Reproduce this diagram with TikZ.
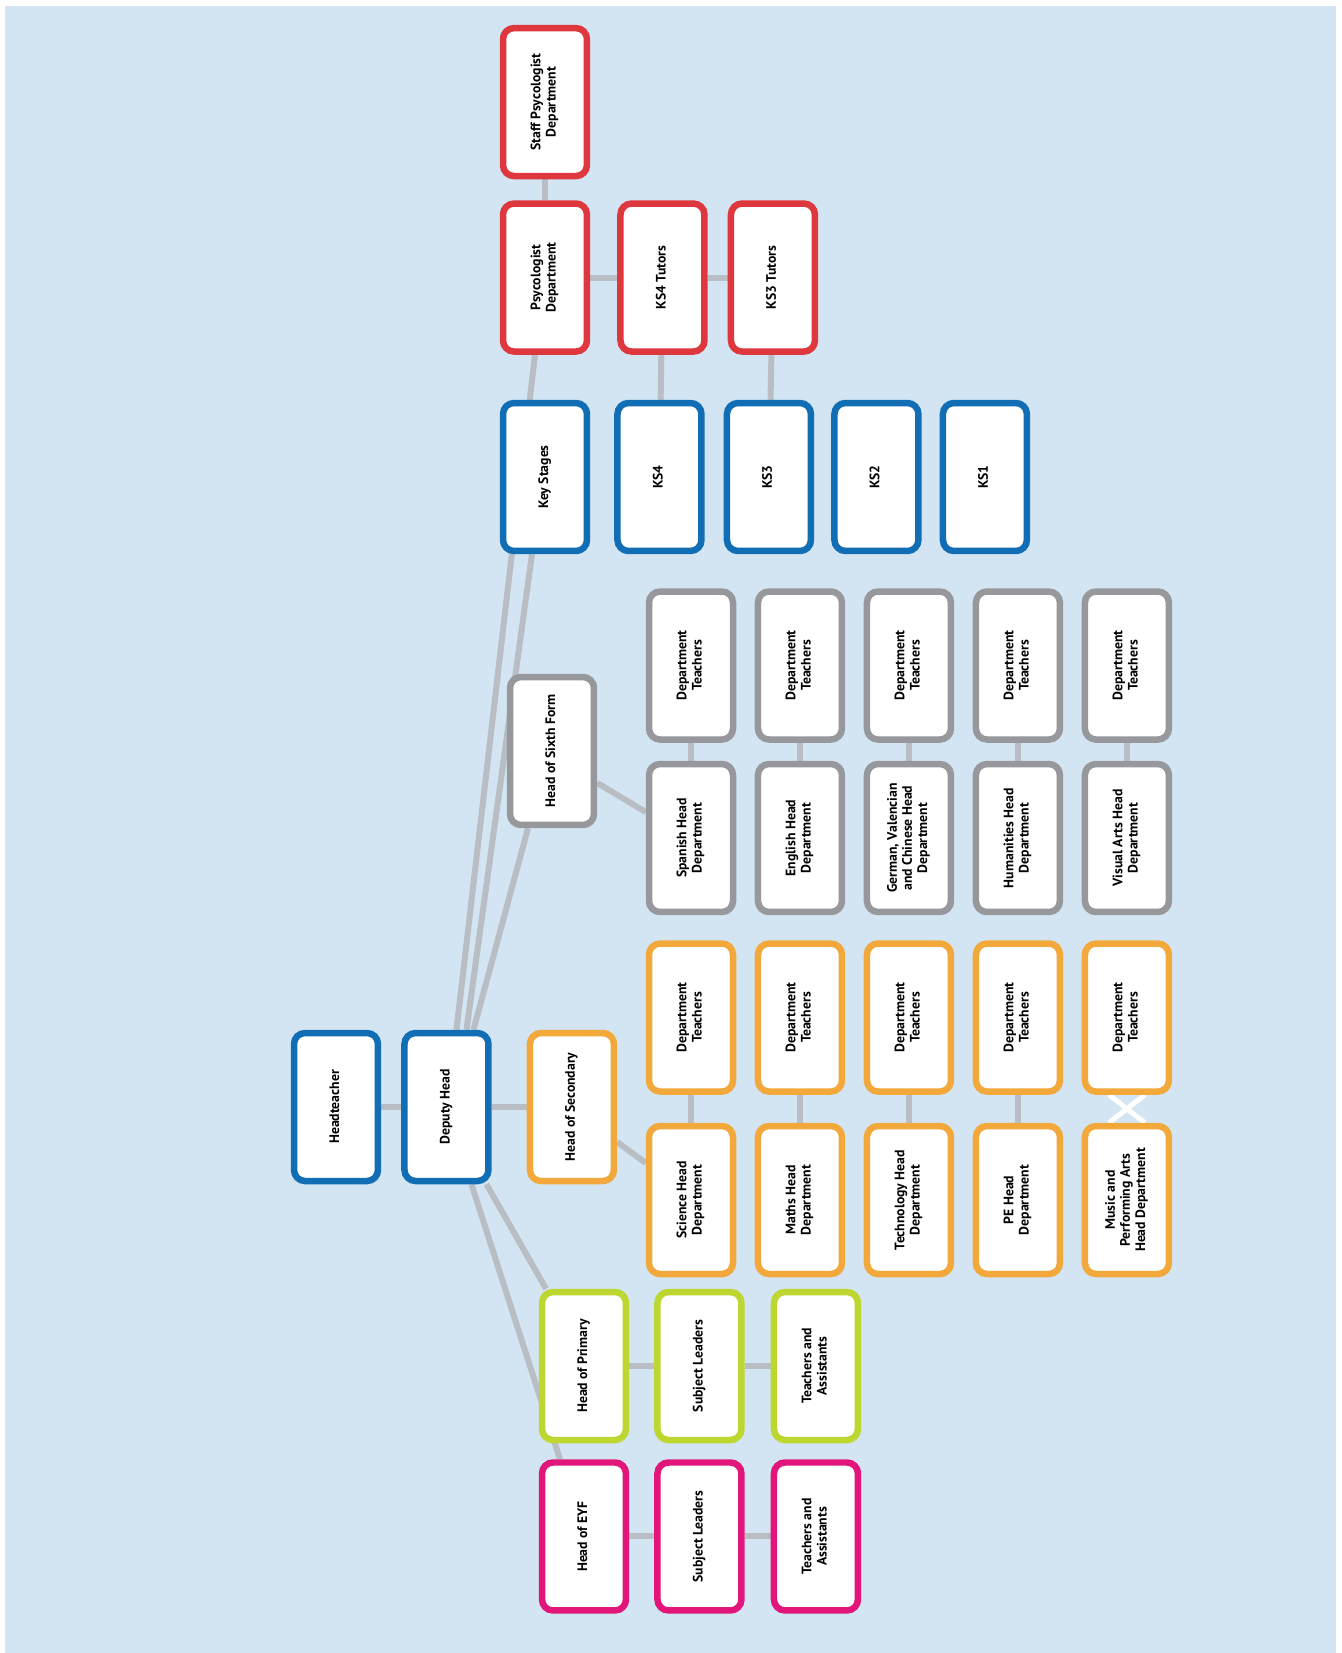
\documentclass[tikz,border=0pt]{standalone}
\usepackage{fontspec}
\usepackage{graphicx}
\setmainfont{PT Sans}
\usetikzlibrary{positioning}
\definecolor{paleblue}{RGB}{211,229,242}
\definecolor{schblue}{RGB}{18,110,180}
\definecolor{schred}{RGB}{222,55,62}
\definecolor{schgray}{RGB}{150,152,156}
\definecolor{schorange}{RGB}{242,168,58}
\definecolor{schgreen}{RGB}{190,214,48}
\definecolor{schpink}{RGB}{226,22,122}
\definecolor{linkgray}{RGB}{185,190,196}
\pgfdeclarelayer{paper}\pgfdeclarelayer{links}
\pgfsetlayers{paper,links,main}
\newcommand{\vlabel}[1]{\rotatebox{90}{\begin{tabular}{@{}c@{}}#1\end{tabular}}}

\begin{document}
\begin{tikzpicture}[x=0.02cm,y=-0.02cm,
    box/.style={draw,fill=white,rounded corners=0.22cm,line width=0.13cm,inner sep=0pt,
                minimum width=1.68cm,minimum height=2.96cm,font=\bfseries\fontsize{7.8}{8.6}\selectfont},
    bluebox/.style={box,draw=schblue},
    redbox/.style={box,draw=schred},
    graybox/.style={box,draw=schgray},
    orangebox/.style={box,draw=schorange},
    greenbox/.style={box,draw=schgreen},
    pinkbox/.style={box,draw=schpink},
    link/.style={draw=linkgray,line width=0.12cm}]
    \useasboundingbox (0,0) rectangle (1342,1653);
    \begin{pgfonlayer}{paper}
      \fill[white] (0,0) rectangle (1342,1653);
      \fill[paleblue] (5,6) rectangle (1336,1653);
    \end{pgfonlayer}

    \node[bluebox] (head) at (336,1107) {\vlabel{Headteacher}};
    \node[bluebox,right=0.4cm of head] (deputy) {\vlabel{Deputy Head}};
    \node[orangebox,right=0.7cm of deputy] (second) {\vlabel{Head of Secondary}};

    \node[bluebox] (keyst) at (545,477) {\vlabel{Key Stages}};
    \node[bluebox,right=0.48cm of keyst] (ksiv) {\vlabel{KS4}};
    \node[bluebox,right=0.38cm of ksiv] (ksiii) {\vlabel{KS3}};
    \node[bluebox,right=0.34cm of ksiii] (ksii) {\vlabel{KS2}};
    \node[bluebox,right=0.36cm of ksii] (ksi) {\vlabel{KS1}};

    \node[redbox,above=0.9cm of keyst] (psy) {\vlabel{Psycologist\\Department}};
    \node[redbox,above=0.42cm of psy] (staff) {\vlabel{Staff Psycologist\\Department}};
    \node[redbox,right=0.54cm of psy] (tutiv) {\vlabel{KS4 Tutors}};
    \node[redbox,right=0.4cm of tutiv] (tutiii) {\vlabel{KS3 Tutors}};

    \node[graybox] (sixth) at (552,751) {\vlabel{Head of Sixth Form}};
    \node[graybox] (spanish) at (691,838) {\vlabel{Spanish Head\\Department}};
    \node[graybox,right=0.37cm of spanish] (english) {\vlabel{English Head\\Department}};
    \node[graybox,right=0.37cm of english] (german) {\vlabel{German, Valencian\\and Chinese Head\\Department}};
    \node[graybox,right=0.37cm of german] (human) {\vlabel{Humanities Head\\Department}};
    \node[graybox,right=0.37cm of human] (visual) {\vlabel{Visual Arts Head\\Department}};
    \node[graybox,above=0.36cm of spanish] (spdt) {\vlabel{Department\\Teachers}};
    \node[graybox,above=0.36cm of english] (endt) {\vlabel{Department\\Teachers}};
    \node[graybox,above=0.36cm of german] (gedt) {\vlabel{Department\\Teachers}};
    \node[graybox,above=0.36cm of human] (hudt) {\vlabel{Department\\Teachers}};
    \node[graybox,above=0.36cm of visual] (vidt) {\vlabel{Department\\Teachers}};

    \node[orangebox] (sci) at (691,1200) {\vlabel{Science Head\\Department}};
    \node[orangebox,right=0.37cm of sci] (maths) {\vlabel{Maths Head\\Department}};
    \node[orangebox,right=0.37cm of maths] (tech) {\vlabel{Technology Head\\Department}};
    \node[orangebox,right=0.37cm of tech] (pe) {\vlabel{PE Head\\Department}};
    \node[orangebox,right=0.37cm of pe] (music) {\vlabel{Music and\\Performing Arts\\Head Department}};
    \node[orangebox,above=0.56cm of sci] (scdt) {\vlabel{Department\\Teachers}};
    \node[orangebox,above=0.56cm of maths] (madt) {\vlabel{Department\\Teachers}};
    \node[orangebox,above=0.56cm of tech] (tedt) {\vlabel{Department\\Teachers}};
    \node[orangebox,above=0.56cm of pe] (pedt) {\vlabel{Department\\Teachers}};
    \node[orangebox,above=0.56cm of music] (mudt) {\vlabel{Department\\Teachers}};

    \node[greenbox] (hprim) at (584,1366) {\vlabel{Head of Primary}};
    \node[greenbox,right=0.5cm of hprim] (subjp) {\vlabel{Subject Leaders}};
    \node[greenbox,right=0.52cm of subjp] (teachp) {\vlabel{Teachers and\\Assistants}};
    \node[pinkbox,below=0.32cm of hprim] (heyf) {\vlabel{Head of EYF}};
    \node[pinkbox,right=0.5cm of heyf] (subje) {\vlabel{Subject Leaders}};
    \node[pinkbox,right=0.52cm of subje] (teache) {\vlabel{Teachers and\\Assistants}};

    \begin{pgfonlayer}{links}
      \draw[link] (head)--(deputy); \draw[link] (deputy)--(second);
      \draw[link] ([xshift=0.2cm]deputy.north)--([xshift=-0.2cm]psy.south);
      \draw[link] ([xshift=0.4cm]deputy.north)--([xshift=-0.26cm]keyst.south);
      \draw[link] ([xshift=0.54cm]deputy.north)--([xshift=-0.48cm]sixth.south);
      \draw[link] ([xshift=0.8cm]deputy.south)--([xshift=-0.76cm]hprim.north);
      \draw[link] ([xshift=0.5cm]deputy.south)--([xshift=-0.48cm]heyf.north);
      \draw[link] (staff)--(psy); \draw[link] (psy)--(tutiv); \draw[link] (tutiv)--(tutiii);
      \draw[link] (tutiv)--(ksiv); \draw[link] (tutiii)--(ksiii);
      \draw[link] ([yshift=-0.64cm]sixth.east)--([yshift=0.52cm]spanish.west);
      \draw[link] (spdt)--(spanish); \draw[link] (endt)--(english); \draw[link] (gedt)--(german);
      \draw[link] (hudt)--(human); \draw[link] (vidt)--(visual);
      \draw[link] ([yshift=-0.7cm]second.east)--([yshift=0.74cm]sci.west);
      \draw[link] (scdt)--(sci); \draw[link] (madt)--(maths); \draw[link] (tedt)--(tech);
      \draw[link] (pedt)--(pe);
      \draw[link,draw=white,line width=0.1cm] ([xshift=-0.36cm]mudt.south)--([xshift=0.36cm]music.north);
      \draw[link,draw=white,line width=0.1cm] ([xshift=0.36cm]mudt.south)--([xshift=-0.36cm]music.north);
      \draw[link] (hprim)--(subjp); \draw[link] (subjp)--(teachp);
      \draw[link] (heyf)--(subje); \draw[link] (subje)--(teache);
    \end{pgfonlayer}
  \end{tikzpicture}
\end{document}
